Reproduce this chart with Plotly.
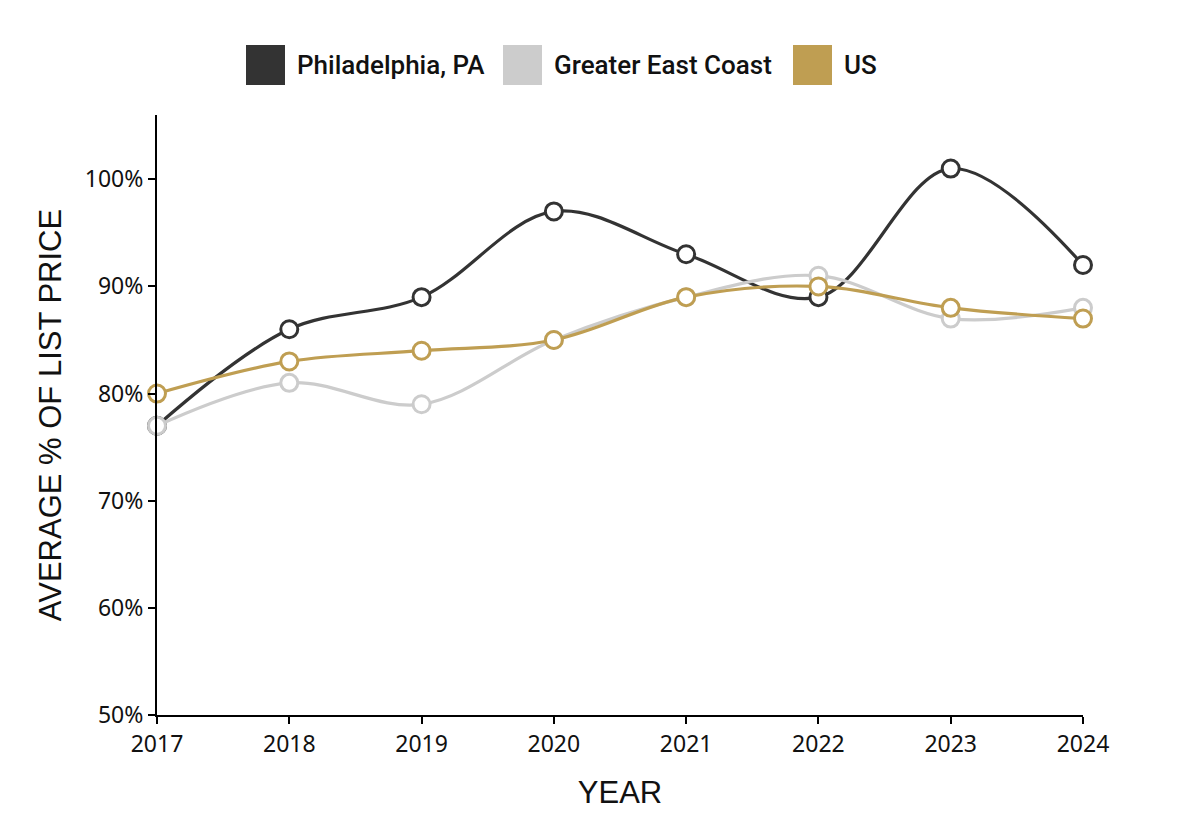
import plotly.graph_objects as go

years = [2017, 2018, 2019, 2020, 2021, 2022, 2023, 2024]
philadelphia = [77, 86, 89, 97, 93, 89, 101, 92]
east_coast = [77, 81, 79, 85, 89, 91, 87, 88]
us = [80, 83, 84, 85, 89, 90, 88, 87]
series_names = ["Philadelphia, PA", "Greater East Coast", "US"]
colors = ["#333333", "#cccccc", "#bf9e52"]
y_ticks = [50, 60, 70, 80, 90, 100]

fig = go.Figure()
for name, vals, col in zip(series_names, [philadelphia, east_coast, us], colors):
    fig.add_trace(go.Scatter(
        x=years, y=vals, name=name, mode="lines+markers",
        line=dict(color=col, width=3.2, shape="spline", smoothing=1),
        marker=dict(size=17, color="white", line=dict(color=col, width=3)),
        showlegend=False,
    ))

OFF = 8  # page body margin
W, H = 1198, 828
L, T = 157 - OFF, 115 - OFF
R = OFF + W - 1083
B = OFF + H - 715
pw, ph = W - L - R, H - T - B

def px(x):
    return (x - OFF - L) / pw

def py(y):
    return (H - B - (y - OFF)) / ph

legend_sq = [246, 503, 793]
for name, col, x0 in zip(series_names, colors, legend_sq):
    fig.add_shape(type="rect", xref="paper", yref="paper",
                  x0=px(x0), x1=px(x0 + 39), y0=py(85), y1=py(45),
                  fillcolor=col, line=dict(width=0))
    fig.add_annotation(xref="paper", yref="paper", x=px(x0 + 49), y=py(65),
                       text=name, showarrow=False, xanchor="left", yanchor="middle",
                       font=dict(family="Roboto", size=26, weight=500, color="#111111"))

fig.update_layout(
    width=W, height=H,
    margin=dict(l=L, r=R, t=T, b=B),
    plot_bgcolor="white", paper_bgcolor="white",
    xaxis=dict(
        range=[2017, 2024], tickvals=years, ticktext=[str(y) for y in years],
        showline=True, linecolor="black", linewidth=2, ticks="outside", ticklen=7,
        tickcolor="black", tickwidth=2, showgrid=False, zeroline=False,
        tickfont=dict(family="Noto Sans", size=23, color="#111111"),
        title=dict(text="YEAR", font=dict(family="Liberation Sans, Arial", size=31, color="#111111"), standoff=24),
    ),
    yaxis=dict(
        range=[50, 106], tickvals=y_ticks, ticktext=[f"{v}%" for v in y_ticks],
        showline=True, linecolor="black", linewidth=2, ticks="outside", ticklen=7,
        tickcolor="black", tickwidth=2, showgrid=False, zeroline=False,
        tickfont=dict(family="Noto Sans", size=23, color="#111111"),
        title=dict(text="AVERAGE % OF LIST PRICE", font=dict(family="Liberation Sans, Arial", size=31, color="#111111"), standoff=14),
    ),
)
fig.update_traces(cliponaxis=False)
fig.write_html("out.html")
